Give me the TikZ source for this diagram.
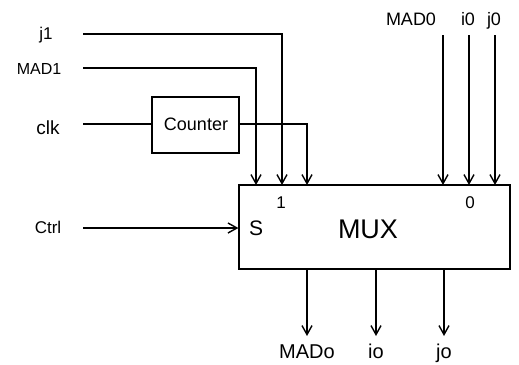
\documentclass[tikz,border=0pt]{standalone}
\usepackage{fontspec}
\setmainfont{Liberation Sans}
\usetikzlibrary{arrows.meta}
\begin{document}
\begin{tikzpicture}[x=1pt,y=-1pt,
  wire/.style={line width=1.2pt},
  arr/.style={wire,-{Straight Barb[length=9pt,width=10pt,line width=1.4pt]}},
  box/.style={draw,line width=1.2pt,inner sep=0pt},
  lbl/.style={inner sep=0pt,anchor=base},
  fs/.style={font=\fontsize{#1}{#1}\selectfont}]
\useasboundingbox (0,0) rectangle (519,364);
% boxes
\node[box,minimum width=87pt,minimum height=56pt] (cnt) at (195.5,125) {};
\node[lbl,fs=18] (cnttxt) at (196,130) {Counter};
\node[box,minimum width=271pt,minimum height=84pt] (mux) at (374.5,227) {};
\node[lbl,fs=27] (muxtxt) at (368,238) {MUX};
\node[lbl,fs=21] (s) at (256,235) {S};
\node[lbl,fs=17] (one) at (281,208) {1};
\node[lbl,fs=17] (zero) at (470,208) {0};
% left labels
\node[lbl,fs=17] (j1) at (46,39) {j1};
\node[lbl,fs=16] (mad1) at (39,74) {MAD1};
\node[lbl,fs=19] (clk) at (48,134) {clk};
\node[lbl,fs=17] (ctrl) at (48,233) {Ctrl};
% top right labels
\node[lbl,fs=18] (mad0) at (411,25) {MAD0};
\node[lbl,fs=18] (i0) at (468,25) {i0};
\node[lbl,fs=18] (j0) at (494,25) {j0};
% bottom labels
\node[lbl,fs=20] (mado) at (307,358) {MADo};
\node[lbl,fs=20] (io) at (376,358) {io};
\node[lbl,fs=20] (jo) at (444,358) {jo};
% wire coordinates
\coordinate (j1s) at (83,34);
\coordinate (mad1s) at (83,68);
\coordinate (clks) at (83,124);
\coordinate (ctrls) at (83,228);
\coordinate (in1a) at (256,185);
\coordinate (in1b) at (282,185);
\coordinate (in1c) at (307,185);
\coordinate (mad0s) at (443,35);
\coordinate (i0s) at (469,35);
\coordinate (j0s) at (495,35);
\coordinate (mad0e) at (443,185);
\coordinate (i0e) at (469,185);
\coordinate (j0e) at (495,185);
\coordinate (outa) at (307,269);
\coordinate (outb) at (376,269);
\coordinate (outc) at (444,269);
\coordinate (outae) at (307,336);
\coordinate (outbe) at (376,336);
\coordinate (outce) at (444,336);
% wires
\draw[arr] (j1s) -| (in1b);
\draw[arr] (mad1s) -| (in1a);
\draw[wire] (clks) -- (cnt.west |- clks);
\draw[arr] (cnt.east |- clks) -| (in1c);
\draw[arr] (ctrls) -- (mux.west |- ctrls);
\draw[arr] (mad0s) -- (mad0e);
\draw[arr] (i0s) -- (i0e);
\draw[arr] (j0s) -- (j0e);
\draw[arr] (outa) -- (outae);
\draw[arr] (outb) -- (outbe);
\draw[arr] (outc) -- (outce);
\end{tikzpicture}
\end{document}
